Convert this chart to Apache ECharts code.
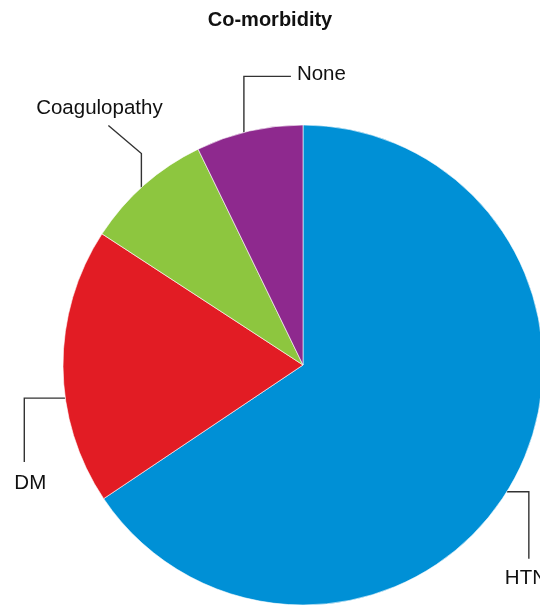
<!DOCTYPE html>
<html>
<head>
<meta charset="utf-8">
<script src="https://cdn.jsdelivr.net/npm/echarts@6/dist/echarts.min.js"></script>
<style>
html,body{margin:0;padding:0;background:#fff;}
#chart{width:540px;height:605px;}
</style>
</head>
<body>
<div id="chart"></div>
<script>
// Data (percent of patients)
const categories = ['HTN', 'DM', 'Coagulopathy', 'None'];
const values = [65.6, 18.6, 8.6, 7.2];
const colors = ['#0090d6', '#e21c24', '#8dc63f', '#8e298e'];

// Layout (pixels)
const CX = 303, CY = 365, R = 240;
// where on each slice the leader line starts (fraction of the slice angle)
const anchorFrac = [0.516, 0.387, 0.47, 0.45];
// leader line segments and label placement, relative to the line end point
const guides = [
  { segs: [[22, 0], [0, 67]], label: { dx: -24, dy: 20, align: 'left', verticalAlign: 'middle' } },   // HTN
  { segs: [[-41, 0], [0, 64]], label: { dx: 6, dy: 21, align: 'center', verticalAlign: 'middle' } },  // DM
  { segs: [[0, -34], [-33, -28]], label: { dx: -9, dy: -17, align: 'center', verticalAlign: 'middle' } }, // Coagulopathy
  { segs: [[0, -56], [47, 0]], label: { dx: 6, dy: -2, align: 'left', verticalAlign: 'middle' } }      // None
];

const total = values.reduce((a, b) => a + b, 0);
const startAngles = [];
let acc = 0;
values.forEach(v => { startAngles.push(acc); acc += v / total * 360; });

function guideFor(i) {
  const a0 = startAngles[i];
  const span = values[i] / total * 360;
  const th = (a0 + span * anchorFrac[i]) * Math.PI / 180;
  let x = CX + R * Math.sin(th), y = CY - R * Math.cos(th);
  const pts = [[x, y]];
  guides[i].segs.forEach(s => { x += s[0]; y += s[1]; pts.push([x, y]); });
  const lb = guides[i].label;
  return { pts, lx: x + lb.dx, ly: y + lb.dy, align: lb.align, verticalAlign: lb.verticalAlign };
}

const chart = echarts.init(document.getElementById('chart'), null, { renderer: 'canvas' });
chart.setOption({
  animation: false,
  backgroundColor: '#ffffff',
  title: {
    text: 'Co-morbidity',
    left: 'center',
    top: 10,
    padding: 0,
    textStyle: { fontFamily: 'Liberation Sans, Arial, sans-serif', fontSize: 20, fontWeight: 'bold', color: '#111' }
  },
  series: [{
    type: 'pie',
    center: [CX, CY],
    radius: [0, R],
    startAngle: 90,
    clockwise: true,
    avoidLabelOverlap: false,
    silent: true,
    itemStyle: { borderWidth: 0.6, borderColor: '#ffffff' },
    label: {
      show: true,
      position: 'outside',
      formatter: '{b}',
      overflow: 'none',
      fontFamily: 'Liberation Sans, Arial, sans-serif',
      fontSize: 20.5,
      color: '#111'
    },
    labelLine: {
      show: true,
      length: 20,
      length2: 20,
      lineStyle: { color: '#333', width: 1.4 }
    },
    labelLayout: function (params) {
      const g = guideFor(params.dataIndex);
      return {
        x: g.lx,
        y: g.ly,
        align: g.align,
        verticalAlign: g.verticalAlign,
        labelLinePoints: g.pts
      };
    },
    data: categories.map((c, i) => ({ name: c, value: values[i], itemStyle: { color: colors[i] } }))
  }]
});
</script>
</body>
</html>
